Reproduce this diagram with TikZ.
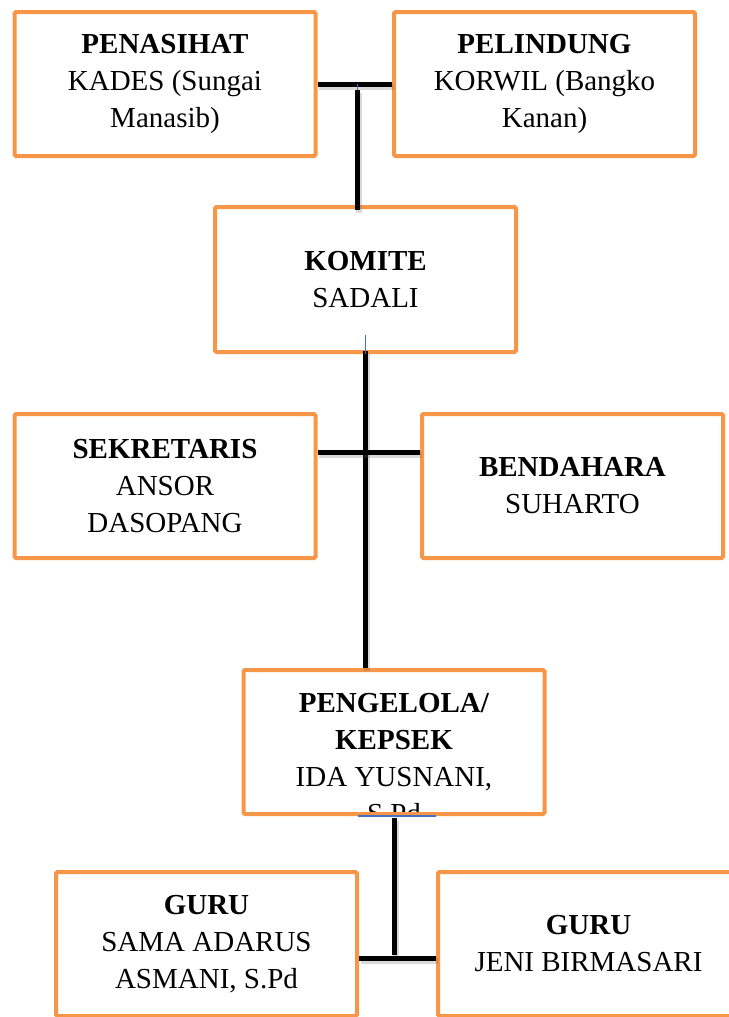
\documentclass[tikz,border=0pt]{standalone}
\usepackage{fontspec}
\setmainfont{Liberation Serif}
\usetikzlibrary{positioning, calc}
\definecolor{kotakorange}{RGB}{247,150,70}
\definecolor{garisbiru}{RGB}{68,114,196}

\begin{document}
\begin{tikzpicture}[x=1pt, y=-1pt,
  kotak/.style={draw=kotakorange, line width=4pt, rounded corners=1.5pt, minimum width=301pt, minimum height=144pt,
    align=center, inner sep=0pt, font=\fontsize{29}{37}\selectfont},
  garis/.style={line width=5pt, black,
    preaction={draw=black!60, opacity=.25, line width=6pt, transform canvas={shift={(1.5pt,-2.5pt)}}}},
  tanda/.style={draw=garisbiru, line width=1.2pt}]
\useasboundingbox (0,0) rectangle (728,1017);

% kotak-kotak
\node[kotak] (penasihat) at (165,84) {\textbf{PENASIHAT}\\KADES (Sungai\\Manasib)};
\node[kotak] (pelindung) at (544.5,84) {\textbf{PELINDUNG}\\KORWIL (Bangko\\Kanan)};
\node[kotak, minimum height=145pt] (komite) at (365.5,279.5) {\textbf{KOMITE}\\SADALI};
\node[kotak] (sekretaris) at (165,486) {\textbf{SEKRETARIS}\\ANSOR\\DASOPANG};
\node[kotak] (bendahara) at (572.5,486) {\textbf{BENDAHARA}\\SUHARTO};
\begin{scope}
  \clip (244,670) rectangle (544,812);
  \node[align=center, inner sep=0pt, font=\fontsize{29}{37}\selectfont] (kepsekteks) at (394,759)
    {\textbf{PENGELOLA/}\\\textbf{KEPSEK}\\IDA YUSNANI,\\S.Pd};
\end{scope}
\node[kotak] (kepsek) at (394,742) {};
\node[kotak] (guru1) at (206.5,944) {\textbf{GURU}\\SAMA ADARUS\\ASMANI, S.Pd};
\node[kotak] (guru2) at (588.5,944) {\textbf{GURU}\\JENI BIRMASARI};

% garis penghubung
\coordinate (j1) at ($(penasihat.east)!0.54!(pelindung.west)$);
\draw[garis] (penasihat.east) -- (pelindung.west);
\draw[tanda] (j1) -- ++(0,7);
\draw[garis] ([yshift=-6pt]j1) -- ([yshift=-5pt]j1 |- komite.north);

\draw[garis] ([yshift=3pt]komite.south) -- (komite.south |- kepsek.north);
\draw[tanda] (komite.south) -- ++(0,-19);
\draw[garis] ([yshift=34pt]sekretaris.east) -- ([yshift=34pt]sekretaris.east -| bendahara.west);

\coordinate (j3) at ([yshift=-14pt]guru1.east);
\draw[garis] ([yshift=-2pt]kepsek.south) -- ([yshift=3pt]kepsek.south |- j3);
\draw[garis] (j3) -- (j3 -| guru2.west);
\draw[tanda] ([shift={(-36pt,0pt)}]kepsek.south) -- ([shift={(42pt,0pt)}]kepsek.south);
\end{tikzpicture}
\end{document}
